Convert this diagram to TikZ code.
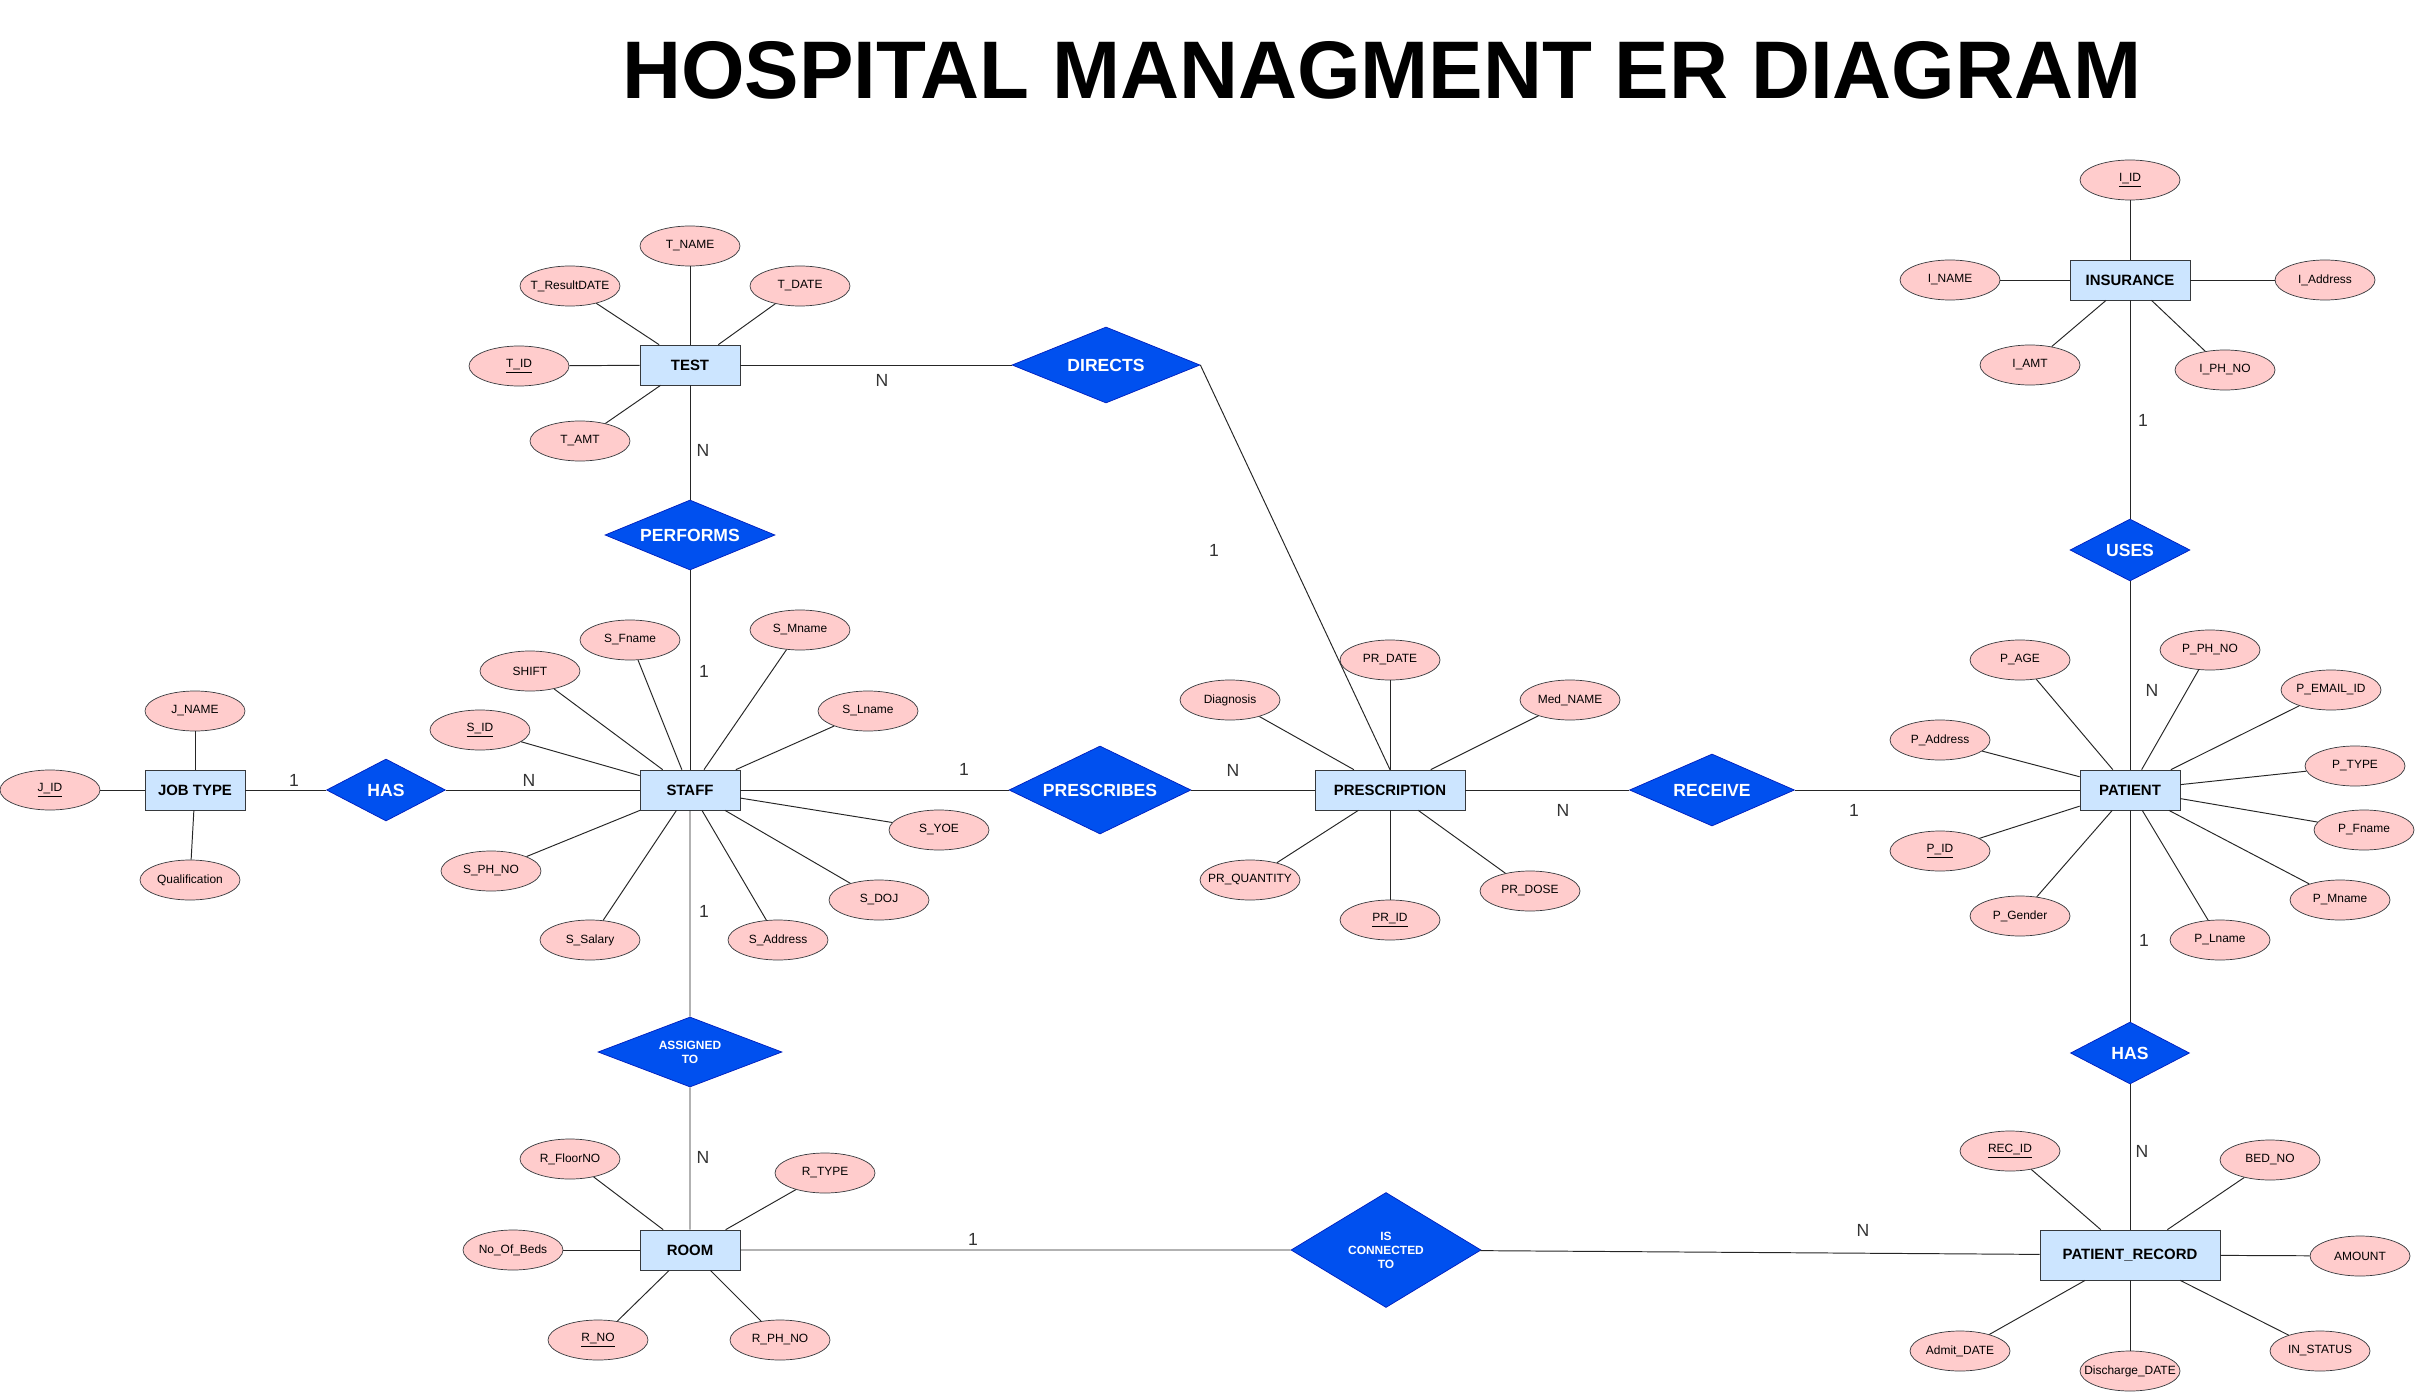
\documentclass[tikz,border=0pt]{standalone}
\usepackage{fontspec}
\setmainfont{Liberation Sans}
\usepackage{tikz}
\usetikzlibrary{shapes.geometric}
\definecolor{entfill}{HTML}{CCE5FF}
\definecolor{attfill}{HTML}{FFCCCC}
\definecolor{relfill}{HTML}{0050EF}
\definecolor{reldraw}{HTML}{001DBC}
\definecolor{boxdraw}{HTML}{36393D}

\begin{document}
\begin{tikzpicture}[x=0.2mm,y=-0.2mm,
  entity/.style={draw=boxdraw,fill=entfill,minimum width=20mm,minimum height=8mm,inner sep=0pt,font=\fontsize{8.5}{10}\selectfont\bfseries},
  attrib/.style={ellipse,draw=boxdraw,fill=attfill,minimum width=20mm,minimum height=8mm,inner xsep=-4mm,inner ysep=0pt,font=\fontsize{6.8}{8}\selectfont},
  rel/.style={diamond,aspect=2,draw=reldraw,fill=relfill,text=white,inner sep=0pt,align=center,font=\fontsize{10}{12}\selectfont\bfseries},
  card/.style={text=black!80,inner sep=0pt,font=\fontsize{10}{12}\selectfont},
  link/.style={draw=black!85,line width=0.55pt}]
  \useasboundingbox (0,0) rectangle (2422,1392);

  \node[font=\fontsize{46.5}{56}\selectfont\bfseries] (title) at (1382,70) {HOSPITAL MANAGMENT ER DIAGRAM};

  % entities
  \node[entity] (test) at (690,365) {TEST};
  \node[entity] (staff) at (690,790) {STAFF};
  \node[entity] (jobtype) at (195,790) {JOB TYPE};
  \node[entity] (room) at (690,1250) {ROOM};
  \node[entity,minimum width=30mm] (presc) at (1390,790) {PRESCRIPTION};
  \node[entity] (patient) at (2130,790) {PATIENT};
  \node[entity,minimum width=24mm] (insurance) at (2130,280) {INSURANCE};
  \node[entity,minimum width=36mm,minimum height=10mm] (precord) at (2130,1255) {PATIENT\_RECORD};

  % relationships
  \node[rel,minimum width=37.6mm,minimum height=15.2mm] (directs) at (1106,365) {DIRECTS};
  \node[rel,minimum width=34mm,minimum height=14mm] (performs) at (690,535) {PERFORMS};
  \node[rel,minimum width=23.8mm,minimum height=12.4mm] (hasjob) at (386,790) {HAS};
  \node[rel,minimum width=36.4mm,minimum height=17.6mm] (prescribes) at (1100,790) {PRESCRIBES};
  \node[rel,minimum width=33mm,minimum height=14.4mm] (receive) at (1712,790) {RECEIVE};
  \node[rel,minimum width=24mm,minimum height=12.4mm] (uses) at (2130,550) {USES};
  \node[rel,minimum width=23.8mm,minimum height=12.4mm] (hasrec) at (2130,1053) {HAS};
  \node[rel,minimum width=36.8mm,minimum height=14mm,font=\fontsize{6.8}{8}\selectfont\bfseries] (assigned) at (690,1052) {ASSIGNED\\TO};
  \node[rel,minimum width=38mm,minimum height=23mm,font=\fontsize{6.8}{8}\selectfont\bfseries] (connected) at (1386,1250) {IS\\CONNECTED\\TO};

  % attributes
  \node[attrib] (tname) at (690,246) {T\_NAME};
  \node[attrib] (tres) at (570,286) {T\_ResultDATE};
  \node[attrib] (tdate) at (800,286) {T\_DATE};
  \node[attrib] (tid) at (519,366) {\underline{T\_ID}};
  \node[attrib] (tamt) at (580,441) {T\_AMT};

  \node[attrib] (sfname) at (630,640) {S\_Fname};
  \node[attrib] (smname) at (800,630) {S\_Mname};
  \node[attrib] (shift) at (530,671) {SHIFT};
  \node[attrib] (slname) at (868,711) {S\_Lname};
  \node[attrib] (sid) at (480,730) {\underline{S\_ID}};
  \node[attrib] (syoe) at (939,830) {S\_YOE};
  \node[attrib] (sphno) at (491,871) {S\_PH\_NO};
  \node[attrib] (sdoj) at (879,900) {S\_DOJ};
  \node[attrib] (ssalary) at (590,940) {S\_Salary};
  \node[attrib] (saddress) at (778,940) {S\_Address};

  \node[attrib] (jname) at (195,711) {J\_NAME};
  \node[attrib] (jid) at (50,790) {\underline{J\_ID}};
  \node[attrib] (qual) at (190,880) {Qualification};

  \node[attrib] (rfloor) at (570,1159) {R\_FloorNO};
  \node[attrib] (rtype) at (825,1173) {R\_TYPE};
  \node[attrib] (nobeds) at (513,1250) {No\_Of\_Beds};
  \node[attrib] (rno) at (598,1340) {\underline{R\_NO}};
  \node[attrib] (rphno) at (780,1340) {R\_PH\_NO};

  \node[attrib] (prdate) at (1390,660) {PR\_DATE};
  \node[attrib] (diag) at (1230,700) {Diagnosis};
  \node[attrib] (medname) at (1570,700) {Med\_NAME};
  \node[attrib] (prqty) at (1250,880) {PR\_QUANTITY};
  \node[attrib] (prid) at (1390,920) {\underline{PR\_ID}};
  \node[attrib] (prdose) at (1530,891) {PR\_DOSE};

  \node[attrib] (iid) at (2130,180) {\underline{I\_ID}};
  \node[attrib] (iname) at (1950,280) {I\_NAME};
  \node[attrib] (iaddr) at (2325,280) {I\_Address};
  \node[attrib] (iamt) at (2030,365) {I\_AMT};
  \node[attrib] (iphno) at (2225,370) {I\_PH\_NO};

  \node[attrib] (page) at (2020,660) {P\_AGE};
  \node[attrib] (pphno) at (2210,650) {P\_PH\_NO};
  \node[attrib] (pemail) at (2331,690) {P\_EMAIL\_ID};
  \node[attrib] (paddr) at (1940,740) {P\_Address};
  \node[attrib] (ptype) at (2355,766) {P\_TYPE};
  \node[attrib] (pfname) at (2364,830) {P\_Fname};
  \node[attrib] (pid) at (1940,851) {\underline{P\_ID}};
  \node[attrib] (pmname) at (2340,900) {P\_Mname};
  \node[attrib] (pgender) at (2020,916) {P\_Gender};
  \node[attrib] (plname) at (2220,940) {P\_Lname};

  \node[attrib] (recid) at (2010,1151) {\underline{REC\_ID}};
  \node[attrib] (bedno) at (2270,1160) {BED\_NO};
  \node[attrib] (amount) at (2360,1256) {AMOUNT};
  \node[attrib] (admit) at (1960,1351) {Admit\_DATE};
  \node[attrib] (discharge) at (2130,1371) {Discharge\_DATE};
  \node[attrib] (instatus) at (2320,1351) {IN\_STATUS};

  % attribute links
  \foreach \a in {tname,tres,tdate,tid,tamt} \draw[link] (test) -- (\a);
  \foreach \a in {sfname,smname,shift,slname,sid,syoe,sphno,sdoj,ssalary,saddress} \draw[link] (staff) -- (\a);
  \foreach \a in {jname,jid,qual} \draw[link] (jobtype) -- (\a);
  \foreach \a in {rfloor,rtype,nobeds,rno,rphno} \draw[link] (room) -- (\a);
  \foreach \a in {prdate,diag,medname,prqty,prid,prdose} \draw[link] (presc) -- (\a);
  \foreach \a in {iid,iname,iaddr,iamt,iphno} \draw[link] (insurance) -- (\a);
  \foreach \a in {page,pphno,pemail,paddr,ptype,pfname,pid,pmname,pgender,plname} \draw[link] (patient) -- (\a);
  \foreach \a in {recid,bedno,amount,admit,discharge,instatus} \draw[link] (precord) -- (\a);

  % relationship links
  \draw[link] (test) -- (directs);
  \draw[link] (directs.east) -- (presc.north);
  \draw[link] (test) -- (performs) -- (staff);
  \draw[link] (jobtype) -- (hasjob) -- (staff);
  \draw[link] (staff) -- (prescribes) -- (presc) -- (receive) -- (patient);
  \draw[link] (insurance) -- (uses) -- (patient) -- (hasrec) -- (precord);
  \draw[link] (staff) -- (assigned) -- (room) -- (connected) -- (precord);

  % cardinalities
  \node[card] (cTestDir) at (882,380) {N};
  \node[card] (cDirPresc) at (1214,550) {1};
  \node[card] (cTestPerf) at (703,450) {N};
  \node[card] (cPerfStaff) at (704,671) {1};
  \node[card] (cJobHas) at (294,780) {1};
  \node[card] (cHasStaff) at (529,780) {N};
  \node[card] (cStaffPres) at (964,769) {1};
  \node[card] (cPresPresc) at (1233,770) {N};
  \node[card] (cPrescRec) at (1563,810) {N};
  \node[card] (cRecPat) at (1854,810) {1};
  \node[card] (cInsUses) at (2143,420) {1};
  \node[card] (cUsesPat) at (2152,690) {N};
  \node[card] (cPatHas) at (2144,940) {1};
  \node[card] (cHasRec) at (2142,1151) {N};
  \node[card] (cStaffAsg) at (704,911) {1};
  \node[card] (cAsgRoom) at (703,1157) {N};
  \node[card] (cRoomCon) at (973,1239) {1};
  \node[card] (cConRec) at (1863,1230) {N};
\end{tikzpicture}
\end{document}
